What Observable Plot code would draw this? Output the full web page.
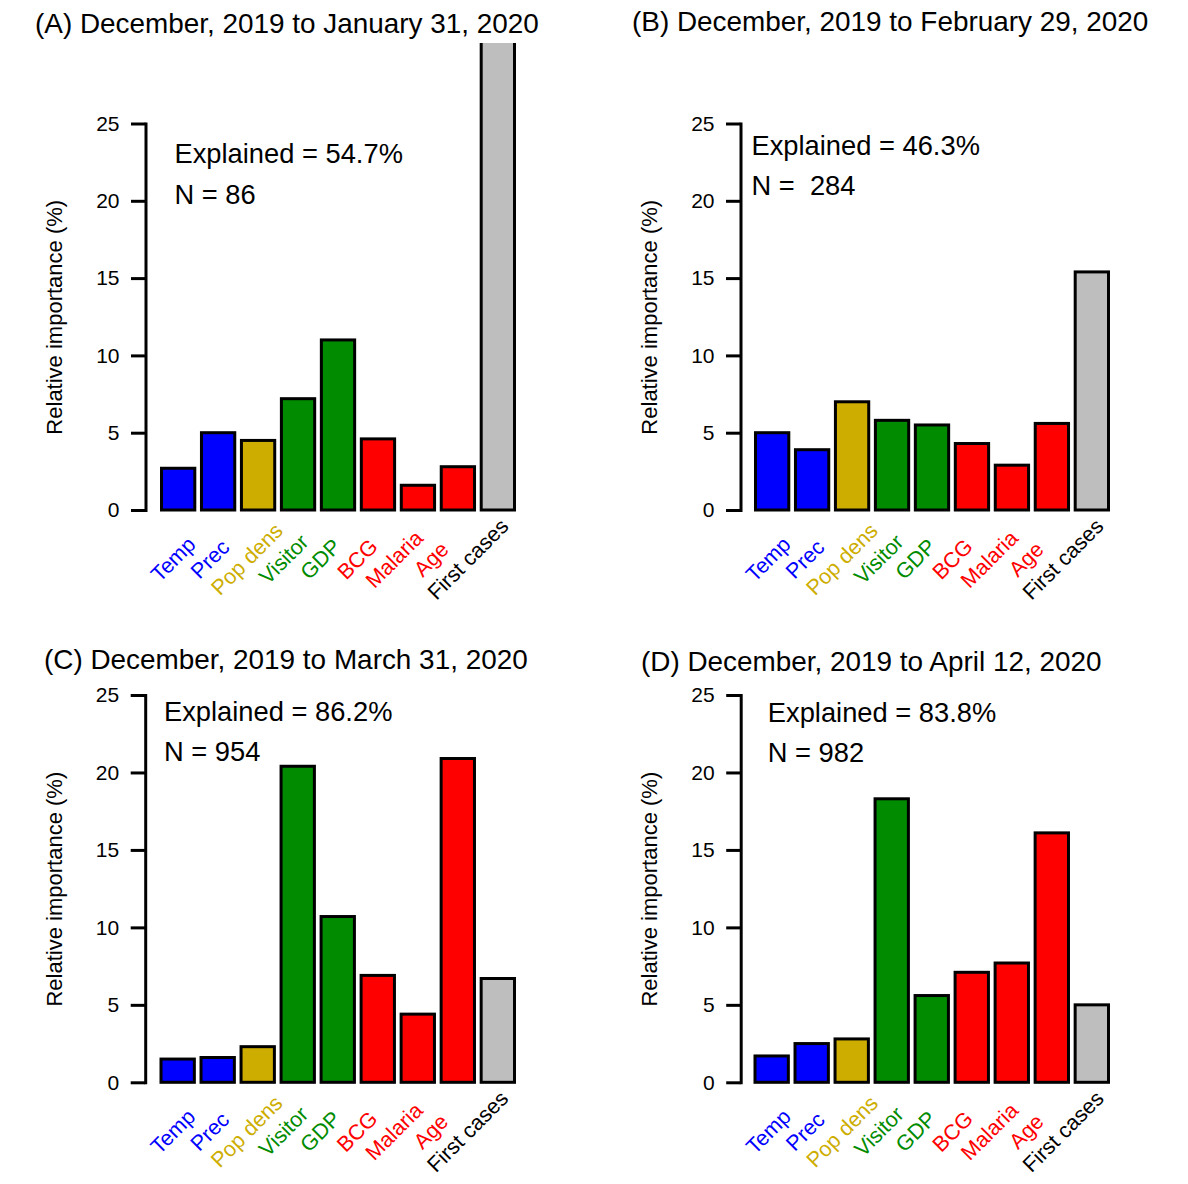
<!DOCTYPE html>
<html>
<head>
<meta charset="utf-8">
<script src="https://cdn.jsdelivr.net/npm/d3@7"></script>
<script src="https://cdn.jsdelivr.net/npm/@observablehq/plot@0.6"></script>
<style>
  body { margin: 0; background: #fff; }
  #root { position: relative; width: 1188px; height: 1184px; overflow: hidden; background: #fff;
          font-family: "Liberation Sans", Arial, Helvetica, sans-serif; }
  .title { position: absolute; font-size: 27.9px; line-height: 27.9px; white-space: nowrap; color: #000; z-index: 3; }
  .panel { position: absolute; z-index: 1; }
  .labels { position: absolute; z-index: 2; pointer-events: none; }
</style>
</head>
<body>
<div id="root"></div>
<script>
// ---------- data ----------
const categories = ["Temp", "Prec", "Pop dens", "Visitor", "GDP", "BCG", "Malaria", "Age", "First cases"];
const barColors = ["#0000FF", "#0000FF", "#CDAD00", "#008B00", "#008B00", "#FF0000", "#FF0000", "#FF0000", "#BEBEBE"];
const labelColors = ["#0000FF", "#0000FF", "#CDAD00", "#008B00", "#008B00", "#FF0000", "#FF0000", "#FF0000", "#000000"];

const valuesA = [2.7, 5.0, 4.5, 7.2, 11.0, 4.6, 1.6, 2.8, 32];
const valuesB = [5.0, 3.9, 7.0, 5.8, 5.5, 4.3, 2.9, 5.6, 15.4];
const valuesC = [1.5, 1.6, 2.3, 20.4, 10.7, 6.9, 4.4, 20.9, 6.7];
const valuesD = [1.7, 2.5, 2.8, 18.3, 5.6, 7.1, 7.7, 16.1, 5.0];

const panelTitles = [
  "(A) December, 2019 to January 31, 2020",
  "(B) December, 2019 to February 29, 2020",
  "(C) December, 2019 to March 31, 2020",
  "(D) December, 2019 to April 12, 2020"
];
const explainedLabels = ["Explained = 54.7%", "Explained = 46.3%", "Explained = 86.2%", "Explained = 83.8%"];
const sampleLabels = ["N = 86", "N =  284", "N = 954", "N = 982"];
const yTicks = [0, 5, 10, 15, 20, 25];
const yLabel = "Relative importance (%)";

// ---------- layout (page pixels) ----------
const layout = [
  { values: valuesA, left: 0,   top: 43,  height: 572, axisX: 145.5, barL: 161.5, barR: 514.5, yTop: 123.5, y0: 510,
    titleX: 35,  titleBase: 34,  annDx: 28.5, annDy1: 39.2, annDy2: 79.8 },
  { values: valuesB, left: 594, top: 43,  height: 572, axisX: 740.5, barL: 755.5, barR: 1108.5, yTop: 123.5, y0: 510,
    titleX: 632, titleBase: 31.5, annDx: 10.5, annDy1: 30.5, annDy2: 70.8 },
  { values: valuesC, left: 0,   top: 615, height: 569, axisX: 145.2, barL: 161,   barR: 514.5, yTop: 695, y0: 1082.3,
    titleX: 44,  titleBase: 670, annDx: 18.3, annDy1: 25,   annDy2: 65 },
  { values: valuesD, left: 594, top: 615, height: 569, axisX: 740.7, barL: 755,   barR: 1108.5, yTop: 695, y0: 1082.3,
    titleX: 641, titleBase: 672, annDx: 26.6, annDy1: 26.7, annDy2: 66.7 }
];
// centres of the rotated category labels, relative to the y axis line
const labelStart = 27.5, labelEnd = 322.3, labelDrop = 49;

const root = document.getElementById("root");
const FONT = '"Liberation Sans", Arial, Helvetica, sans-serif';

layout.forEach((L, i) => {
  const rows = categories.map((name, j) => ({
    name, value: L.values[j], color: barColors[j], labelColor: labelColors[j]
  }));
  const width = 594;
  const marginLeft = L.axisX - L.left;
  const marginTop = L.yTop - L.top;
  const marginBottom = L.height - (L.y0 - L.top);

  const chart = Plot.plot({
    width, height: L.height,
    marginLeft, marginTop, marginBottom, marginRight: 0,
    x: { type: "band", domain: categories, range: [L.barL - L.left, L.barR - L.left],
         paddingInner: 1 / 6, paddingOuter: 0, round: false, axis: null },
    y: { domain: [0, 25], axis: null },
    color: { type: "identity" },
    style: { overflow: "hidden", background: "transparent", fontFamily: FONT, color: "#000" },
    marks: [
      Plot.barY(rows, { x: "name", y: "value", fill: "color", stroke: "#000", strokeWidth: 3 }),
      Plot.frame({ anchor: "left", stroke: "#000", strokeWidth: 3 }),
      Plot.axisY(yTicks, { anchor: "left", tickSize: 14.5, tickPadding: 12, strokeWidth: 3,
                           fontSize: 21, label: null, tickFormat: d => String(d) }),
      Plot.text([yLabel], { frameAnchor: "left", text: d => d, rotate: -90, textAnchor: "middle",
                            lineAnchor: "bottom", dx: -84, fontSize: 22, fill: "#000" }),
      Plot.text([explainedLabels[i]], { frameAnchor: "top-left", text: d => d, textAnchor: "start",
                            lineAnchor: "bottom", dx: L.annDx, dy: L.annDy1, fontSize: 27.3, fill: "#000" }),
      Plot.text([sampleLabels[i]], { frameAnchor: "top-left", text: d => d, textAnchor: "start",
                            lineAnchor: "bottom", dx: L.annDx, dy: L.annDy2, fontSize: 27.3, fill: "#000" })
    ]
  });
  const wrap = document.createElement("div");
  wrap.className = "panel";
  wrap.style.left = L.left + "px";
  wrap.style.top = L.top + "px";
  wrap.appendChild(chart);
  root.appendChild(wrap);

  // rotated category labels (own point scale, centred text as in the original)
  const labelChart = Plot.plot({
    width, height: L.height,
    marginLeft, marginTop, marginBottom, marginRight: 0,
    x: { type: "point", domain: categories, range: [marginLeft + labelStart, marginLeft + labelEnd],
         padding: 0, round: false, axis: null },
    y: { domain: [0, 25], axis: null },
    color: { type: "identity" },
    style: { overflow: "visible", background: "transparent", fontFamily: FONT },
    marks: [
      Plot.text(rows, { x: "name", y: () => 0, text: "name", fill: "labelColor",
                        rotate: -45, textAnchor: "middle", lineAnchor: "middle", dy: labelDrop, fontSize: 21.5 })
    ]
  });
  const lw = document.createElement("div");
  lw.className = "labels";
  lw.style.left = L.left + "px";
  lw.style.top = L.top + "px";
  lw.appendChild(labelChart);
  root.appendChild(lw);

  const t = document.createElement("div");
  t.className = "title";
  t.textContent = panelTitles[i];
  t.style.left = L.titleX + "px";
  t.style.top = (L.titleBase - 23.6) + "px";
  root.appendChild(t);
});
</script>
</body>
</html>
